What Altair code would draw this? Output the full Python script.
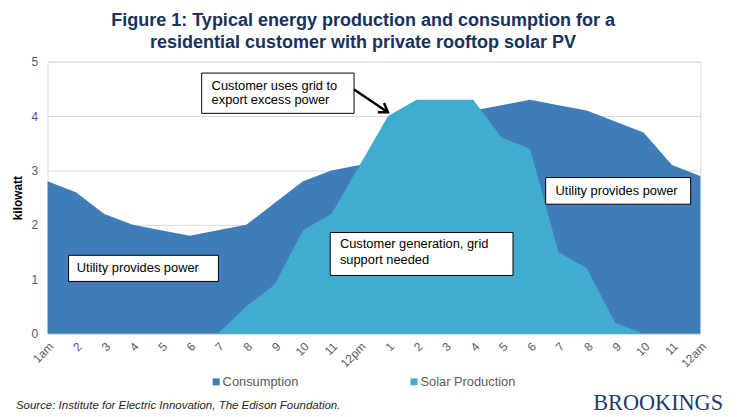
import altair as alt
import pandas as pd

# ---- data ----
hours = ["1am", "2", "3", "4", "5", "6", "7", "8", "9", "10", "11", "12pm",
         "1", "2", "3", "4", "5", "6", "7", "8", "9", "10", "11", "12am"]
consumption = [2.8, 2.6, 2.2, 2.0, 1.9, 1.8, 1.9, 2.0, 2.4, 2.8, 3.0, 3.1,
               3.5, 3.8, 4.0, 4.1, 4.2, 4.3, 4.2, 4.1, 3.9, 3.7, 3.1, 2.9]
solar = [0, 0, 0, 0, 0, 0, 0, 0.5, 0.9, 1.9, 2.2, 3.1,
         4.0, 4.3, 4.3, 4.3, 3.6, 3.4, 1.5, 1.2, 0.2, 0, 0, 0]
series = ["Consumption", "Solar Production"]
colors = ["#3F7DBA", "#42ACD0"]

# annotation boxes (data coordinates: hour index, kilowatt)
box_x1 = [5.43, 0.74, 9.96, 17.55]
box_x2 = [10.80, 6.02, 16.40, 22.66]
box_y1 = [4.79, 1.44, 1.86, 2.87]
box_y2 = [4.05, 0.96, 1.07, 2.38]

ann_text = ["Customer uses grid to", "export  excess power",
            "Utility provides  power",
            "Customer generation,  grid", "support needed",
            "Utility provides  power"]
ann_x = [5.78, 5.78, 1.03, 10.30, 10.30, 17.90]
ann_y = [4.56, 4.29, 1.20, 1.64, 1.35, 2.62]

arrow_from = [10.80, 4.49]
arrow_to = [11.99, 4.07]

title_lines = ["Figure 1: Typical energy production and consumption for a",
               "residential customer with private rooftop solar PV"]
source_text = "Source: Institute for Electric Innovation, The Edison Foundation."
logo_text = "BROOKINGS"

# ---- tables ----
df = pd.DataFrame({
    "idx": list(range(len(hours))) * 2,
    "series": [series[0]] * len(hours) + [series[1]] * len(hours),
    "value": consumption + solar,
})
boxes = pd.DataFrame({"idx": box_x1, "x2": box_x2, "value": box_y1, "y2": box_y2})
anns = pd.DataFrame({"t": ann_text, "idx": ann_x, "value": ann_y})
arrow = pd.DataFrame({"idx": [arrow_from[0]], "value": [arrow_from[1]],
                      "x2": [arrow_to[0]], "y2": [arrow_to[1]]})
tip = pd.DataFrame({"idx": [arrow_to[0]], "value": [arrow_to[1]]})

FONT = "Liberation Sans"
label_expr = "[" + ",".join("'%s'" % h for h in hours) + "][datum.value]"

xscale = alt.Scale(domain=[0, 23], nice=False, zero=False)
yscale = alt.Scale(domain=[0, 5], nice=False)

x_axis = alt.Axis(values=list(range(24)), labelExpr=label_expr, labelAngle=-45,
                  title=None, grid=False, domain=False, ticks=False,
                  labelColor="#595959", labelFontSize=12, labelFont=FONT,
                  labelPadding=7, labelOverlap=False, labelFlush=False)
y_axis = alt.Axis(values=[0, 1, 2, 3, 4, 5], title="kilowatt",
                  titleFontWeight="bold", titleFontSize=12, titleColor="black",
                  titleFont=FONT, titlePadding=7,
                  grid=True, gridColor="#D9D9D9", domain=False, ticks=False,
                  labelColor="#595959", labelFontSize=12, labelFont=FONT,
                  labelPadding=10)

X = alt.X("idx:Q", scale=xscale, axis=x_axis, title=None)
Y = alt.Y("value:Q", scale=yscale, axis=y_axis, title="kilowatt")

color = alt.Color("series:N", scale=alt.Scale(domain=series, range=colors),
                  legend=alt.Legend(orient="none", legendX=164, legendY=317,
                                    direction="horizontal", title=None,
                                    symbolType="square", symbolSize=50,
                                    symbolStrokeWidth=0, labelFontSize=13,
                                    labelFont=FONT, labelColor="#595959",
                                    columnPadding=110, labelOffset=0, padding=0))

base = alt.Chart(df)
cons = base.transform_filter(alt.datum.series == series[0]).mark_area(opacity=1).encode(
    x=X, y=Y, color=color)
sol = base.transform_filter(alt.datum.series == series[1]).mark_area(opacity=1).encode(
    x=X, y=Y, color=color)

rects = alt.Chart(boxes).mark_rect(fill="white", stroke="black", strokeWidth=1).encode(
    x=X, x2="x2:Q", y=Y, y2="y2:Q")
texts = alt.Chart(anns).mark_text(align="left", baseline="middle", fontSize=13,
                                  font=FONT, color="black").encode(
    x=X, y=Y, text="t:N")
arrow_line = alt.Chart(arrow).mark_rule(color="black", strokeWidth=2.5).encode(
    x=X, x2="x2:Q", y=Y, y2="y2:Q")
arrow_head = alt.Chart(tip).mark_point(shape="M-0.8,1.2L0,0L0.8,1.2", filled=False,
                                       stroke="black", strokeWidth=2.5, size=196,
                                       angle=124, opacity=1).encode(x=X, y=Y)

source = alt.Chart(pd.DataFrame({"t": [source_text]})).mark_text(
    align="left", baseline="alphabetic", fontSize=11.6, font=FONT, fontStyle="italic",
    color="#262626").encode(text="t:N", x=alt.value(-32), y=alt.value(351))
logo = alt.Chart(pd.DataFrame({"t": [logo_text]})).mark_text(
    align="right", baseline="alphabetic", fontSize=22.5, font="Liberation Serif",
    color="#1F3A68").encode(text="t:N", x=alt.value(683), y=alt.value(352))

chart = alt.layer(cons, sol, rects, texts, arrow_line, arrow_head, source, logo).properties(
    width=660, height=275,
    title=alt.TitleParams(text=title_lines, fontSize=18.2, font=FONT, fontWeight="bold",
                          color="#17325C", anchor="middle", dx=-11, offset=4,
                          lineHeight=22),
    autosize=alt.AutoSizeParams(type="none"),
    padding={"left": 40, "top": 52, "right": 29, "bottom": 81},
).configure_view(stroke=None).configure(background="white")

chart.save("out.html", embed_options={"renderer": "svg", "actions": False})
